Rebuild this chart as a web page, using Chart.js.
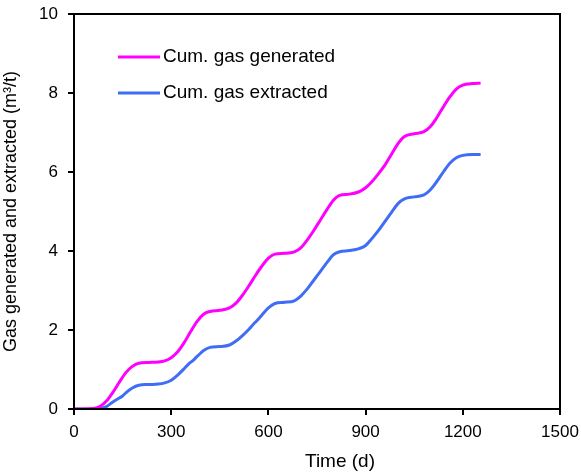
<!DOCTYPE html>
<html>
<head>
<meta charset="utf-8">
<script src="https://cdn.jsdelivr.net/npm/chart.js@4"></script>
<style>
  html, body { margin: 0; padding: 0; background: #fff; }
  #box { width: 581px; height: 475px; }
</style>
</head>
<body>
<div id="box"><canvas id="chart"></canvas></div>
<script>
// series (days, m3/t)
const genDays = [0, 30, 60, 80, 100, 120, 140, 160, 180, 200, 230, 260, 280, 300, 320, 340, 360, 380, 400, 420, 450, 480, 500, 520, 540, 560, 580, 600, 620, 650, 680, 700, 720, 740, 760, 780, 800, 820, 850, 880, 900, 920, 940, 960, 980, 1000, 1020, 1050, 1080, 1100, 1120, 1140, 1160, 1180, 1200, 1230, 1255];
const genValues = [0, 0, 0.01, 0.06, 0.2, 0.42, 0.68, 0.92, 1.08, 1.16, 1.18, 1.19, 1.22, 1.3, 1.45, 1.68, 1.96, 2.22, 2.4, 2.47, 2.5, 2.56, 2.68, 2.88, 3.12, 3.38, 3.62, 3.82, 3.92, 3.94, 3.98, 4.08, 4.28, 4.52, 4.78, 5.04, 5.28, 5.41, 5.44, 5.5, 5.6, 5.76, 5.96, 6.18, 6.45, 6.72, 6.9, 6.97, 7.02, 7.15, 7.38, 7.65, 7.9, 8.1, 8.2, 8.24, 8.25];

const extDays = [0, 60, 80, 100, 120, 140, 150, 160, 180, 200, 230, 260, 280, 300, 320, 340, 355, 365, 380, 400, 420, 450, 480, 500, 520, 540, 555, 565, 580, 600, 620, 650, 680, 700, 720, 740, 760, 780, 800, 820, 850, 880, 900, 920, 940, 960, 980, 1000, 1020, 1050, 1080, 1100, 1120, 1140, 1160, 1180, 1200, 1230, 1255];
const extValues = [0, 0, 0.01, 0.06, 0.18, 0.28, 0.33, 0.41, 0.53, 0.6, 0.62, 0.63, 0.66, 0.73, 0.86, 1.02, 1.15, 1.21, 1.33, 1.48, 1.56, 1.58, 1.62, 1.72, 1.86, 2.02, 2.16, 2.24, 2.38, 2.56, 2.67, 2.7, 2.74, 2.86, 3.04, 3.26, 3.48, 3.7, 3.9, 3.98, 4.01, 4.06, 4.14, 4.32, 4.52, 4.75, 4.98, 5.2, 5.32, 5.37, 5.42, 5.55, 5.76, 6.0, 6.22, 6.36, 6.42, 6.44, 6.44];

const seriesNames = ["Cum. gas generated", "Cum. gas extracted"];
const seriesColors = ["#ff00ff", "#3f6df5"];

const xTitle = "Time (d)";
const yTitle = "Gas generated and extracted (m³/t)";

const font = "Liberation Sans, Arial, sans-serif";

const toPoints = (xs, ys) => xs.map((x, i) => ({ x: x, y: ys[i] }));

// frame, legend and x title drawn on top
const extras = {
  id: "extras",
  afterDraw(chart) {
    const ctx = chart.ctx;
    const a = chart.chartArea;
    ctx.save();
    ctx.strokeStyle = "#000";
    ctx.lineWidth = 2;
    ctx.strokeRect(a.left, a.top, a.right - a.left, a.bottom - a.top);

    ctx.font = "19px " + font;
    ctx.textBaseline = "middle";
    ctx.fillStyle = "#000";
    chart.data.datasets.forEach((ds, i) => {
      const y = a.top + 43 + i * 36;
      ctx.strokeStyle = ds.borderColor;
      ctx.lineWidth = 3;
      ctx.beginPath();
      ctx.moveTo(a.left + 44, y);
      ctx.lineTo(a.left + 86, y);
      ctx.stroke();
      ctx.fillText(ds.label, a.left + 89, y);
    });

    ctx.textAlign = "center";
    ctx.fillText(xTitle, (a.left + a.right) / 2 + 23, 462);
    ctx.restore();
  }
};

new Chart(document.getElementById("chart"), {
  type: "line",
  plugins: [extras],
  data: {
    datasets: [
      {
        label: seriesNames[0],
        data: toPoints(genDays, genValues),
        borderColor: seriesColors[0],
        borderWidth: 3,
        pointRadius: 0,
        cubicInterpolationMode: "monotone",
        fill: false,
      },
      {
        label: seriesNames[1],
        data: toPoints(extDays, extValues),
        borderColor: seriesColors[1],
        borderWidth: 3,
        pointRadius: 0,
        cubicInterpolationMode: "monotone",
        fill: false,
      },
    ],
  },
  options: {
    responsive: true,
    maintainAspectRatio: false,
    animation: false,
    layout: { padding: { top: 14, right: 21, left: 0, bottom: 0 } },
    plugins: {
      legend: { display: false },
      tooltip: { enabled: false },
    },
    scales: {
      x: {
        type: "linear",
        min: 0,
        max: 1500,
        ticks: { stepSize: 300, color: "#000", font: { family: font, size: 17 }, padding: 7, callback: (v) => String(v) },
        grid: { drawOnChartArea: false, drawTicks: true, tickLength: 6, color: "#000", lineWidth: 2 },
        border: { display: true, color: "#000", width: 2 },
        afterFit(scale) {
          scale.height = 66;
          scale.paddingLeft = 0;
          scale.paddingRight = 0;
        },
      },
      y: {
        min: 0,
        max: 10,
        ticks: { stepSize: 2, color: "#000", font: { family: font, size: 17 }, padding: 10 },
        grid: { drawOnChartArea: false, drawTicks: true, tickLength: 6, color: "#000", lineWidth: 2 },
        border: { display: true, color: "#000", width: 2 },
        title: { display: true, text: yTitle, color: "#000", font: { family: font, size: 18 }, padding: 0 },
        afterFit(scale) {
          scale.width = 74;
          scale.paddingTop = 0;
          scale.paddingBottom = 0;
        },
      },
    },
  },
});
</script>
</body>
</html>
